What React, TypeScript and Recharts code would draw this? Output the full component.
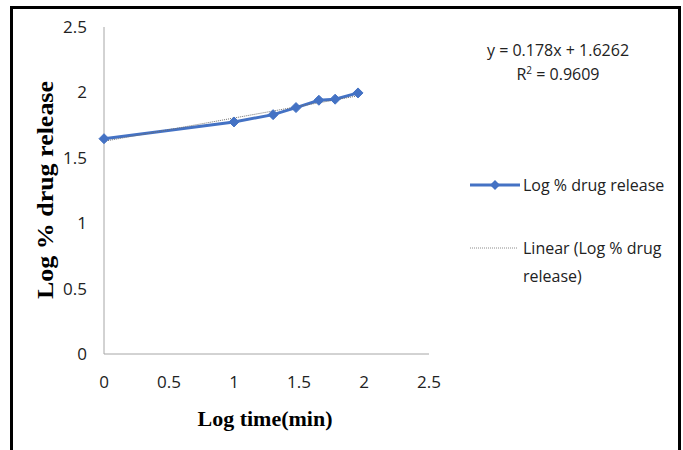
import React from "react";
import {
  LineChart,
  Line,
  XAxis,
  YAxis,
  ReferenceLine,
  Label,
} from "recharts";

// log time (min) values: 1, 10, 20, 30, 45, 60, 90 min
const logTime = [0, 1, 1.301, 1.477, 1.653, 1.778, 1.954];
const logRelease = [1.646, 1.774, 1.83, 1.884, 1.94, 1.948, 1.996];

const xTicks = [0, 0.5, 1, 1.5, 2, 2.5];
const yTicks = [0, 0.5, 1, 1.5, 2, 2.5];

// trendline as shown on the chart
const slope = 0.178;
const intercept = 1.6262;
const rSquared = "0.9609";

const seriesName = "Log % drug release";
const trendName = ["Linear (Log % drug", "release)"];

const data = logTime.map((x, i) => ({ x, y: logRelease[i] }));

const BLUE = "#4472C4";
const TICK_FONT = "'Open Sans', sans-serif";
const TITLE_FONT = "'Liberation Serif', 'Times New Roman', serif";

function Diamond(props: { cx?: number; cy?: number; index?: number }) {
  const { cx, cy, index } = props;
  if (cx == null || cy == null) return null;
  const r = 5;
  return (
    <polygon
      key={`d-${index}`}
      points={`${cx},${cy - r} ${cx + r},${cy} ${cx},${cy + r} ${cx - r},${cy}`}
      fill={BLUE}
      stroke={BLUE}
      strokeWidth={1}
    />
  );
}

function LegendBox() {
  return (
    <svg width={210} height={130} style={{ display: "block" }}>
      <line x1={2} y1={15} x2={52} y2={15} stroke={BLUE} strokeWidth={3} />
      <polygon points="27,10 32,15 27,20 22,15" fill={BLUE} />
      <text x={55} y={15} dy="0.35em" fontFamily={TICK_FONT} fontSize={16} fill="#222">
        {seriesName}
      </text>
      <line x1={2} y1={78} x2={50} y2={78} stroke="#8c8c8c" strokeWidth={1} strokeDasharray="1 1" />
      <text x={55} y={78} dy="0.35em" fontFamily={TICK_FONT} fontSize={16} fill="#222">
        {trendName[0]}
      </text>
      <text x={55} y={106} dy="0.35em" fontFamily={TICK_FONT} fontSize={16} fill="#222">
        {trendName[1]}
      </text>
    </svg>
  );
}

export default function App() {
  const xEnd = logTime[logTime.length - 1];
  return (
    <div
      style={{
        position: "absolute",
        left: 0,
        top: 0,
        width: 683,
        height: 450,
        background: "#fff",
        overflow: "hidden",
      }}
    >
      <div
        style={{
          position: "absolute",
          left: 10,
          top: 6,
          width: 665,
          height: 460,
          border: "3px solid #000",
        }}
      />
      <div style={{ position: "absolute", left: 0, top: 0 }}>
        <LineChart
          width={683}
          height={450}
          data={data}
          margin={{ top: 27, right: 254, bottom: 56, left: 44 }}
        >
          <XAxis
            dataKey="x"
            type="number"
            domain={[0, 2.5]}
            ticks={xTicks}
            interval={0}
            tickLine={false}
            tickSize={0}
            tickMargin={22}
            stroke="#a6a6a6"
            tick={{ fill: "#222", fontSize: 17, fontFamily: TICK_FONT }}
            height={40}
          >
            <Label
              content={() => (
                <text
                  x={265}
                  y={418}
                  textAnchor="middle"
                  dominantBaseline="central"
                  fontFamily={TITLE_FONT}
                  fontWeight="bold"
                  fontSize={22}
                  fill="#000"
                >
                  Log time(min)
                </text>
              )}
            />
          </XAxis>
          <YAxis
            type="number"
            domain={[0, 2.5]}
            ticks={yTicks}
            interval={0}
            tickLine={false}
            tickSize={0}
            tickMargin={17}
            stroke="#a6a6a6"
            width={60}
            tick={{ fill: "#222", fontSize: 17, fontFamily: TICK_FONT }}
          >
            <Label
              content={() => (
                <text
                  x={45}
                  y={190}
                  transform="rotate(-90 45 190)"
                  textAnchor="middle"
                  dominantBaseline="central"
                  fontFamily={TITLE_FONT}
                  fontWeight="bold"
                  fontSize={23}
                  textLength={218}
                  lengthAdjust="spacingAndGlyphs"
                  fill="#000"
                >
                  Log % drug release
                </text>
              )}
            />
          </YAxis>
          <Line
            dataKey="y"
            name={seriesName}
            stroke={BLUE}
            strokeWidth={3}
            dot={<Diamond />}
            activeDot={false}
            isAnimationActive={false}
          />
          <ReferenceLine
            segment={[
              { x: 0, y: intercept },
              { x: xEnd, y: slope * xEnd + intercept },
            ]}
            stroke="#6f6f6f"
            strokeWidth={1}
            strokeDasharray="1 1"
          />
        </LineChart>
      </div>
      <div style={{ position: "absolute", left: 468, top: 170 }}>
        <LegendBox />
      </div>
      <div
        style={{
          position: "absolute",
          left: 458,
          top: 38,
          width: 200,
          textAlign: "center",
          fontFamily: TICK_FONT,
          fontSize: 16,
          lineHeight: "24px",
          color: "#222",
        }}
      >
        <div>y = {slope}x + {intercept}</div>
        <div>
          R<sup style={{ fontSize: 10, verticalAlign: "6px", lineHeight: 0 }}>2</sup> = {rSquared}
        </div>
      </div>
    </div>
  );
}
